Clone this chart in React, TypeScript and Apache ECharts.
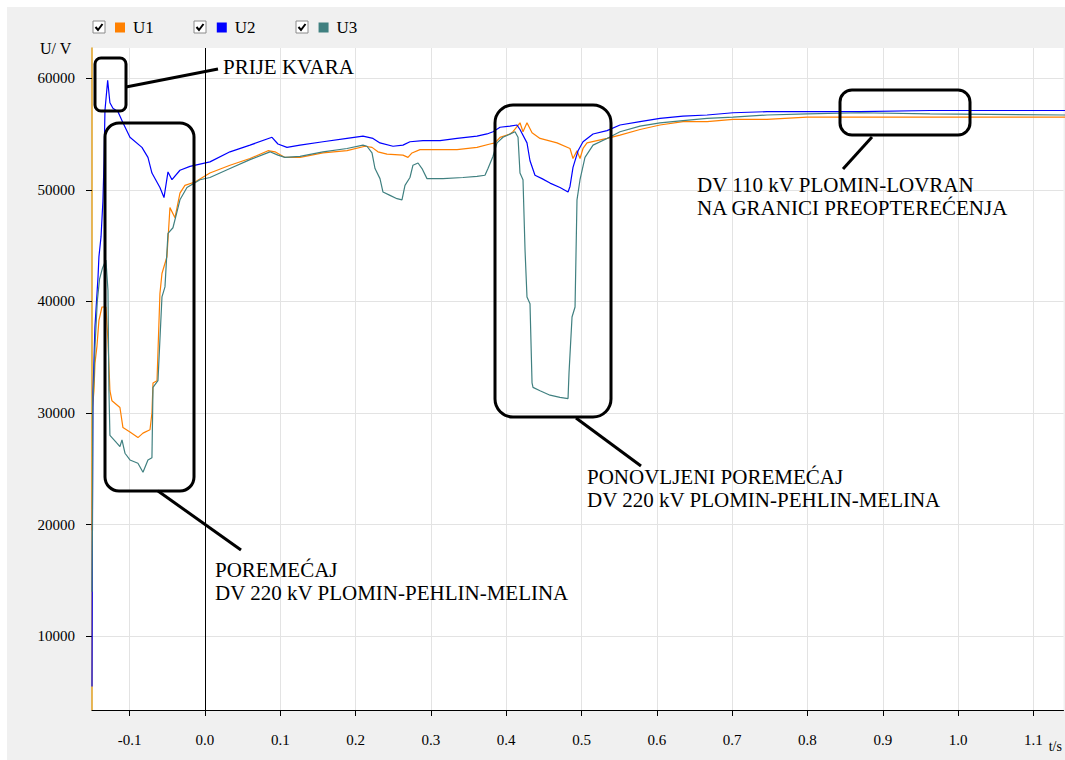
import React, { useEffect, useRef } from "react";
import * as echarts from "echarts";

const SERIES_NAMES = ["U1", "U2", "U3"];
const SERIES_COLORS = ["#ff8000", "#0000ff", "#408080"];
const X_TICKS = [-0.1, 0.0, 0.1, 0.2, 0.3, 0.4, 0.5, 0.6, 0.7, 0.8, 0.9, 1.0, 1.1];
const Y_TICKS = [10000, 20000, 30000, 40000, 50000, 60000];
const FAULT_TIME = [0];
const Y_NAME = "U/ V";
const X_NAME = "t/s";

const U1: number[][] = [
  [-0.150, 19500], [-0.1493, 30500], [-0.1474, 32000], [-0.146, 34500], [-0.1434, 36000],
  [-0.1408, 38300], [-0.1368, 39500], [-0.1315, 39500], [-0.1288, 36500], [-0.1262, 32000],
  [-0.1235, 31100], [-0.1129, 30500], [-0.1089, 28700], [-0.0996, 28300], [-0.089, 27800],
  [-0.0823, 28200], [-0.073, 28500], [-0.0704, 30000], [-0.069, 32700], [-0.0637, 32900],
  [-0.0598, 40700], [-0.0571, 42500], [-0.0505, 44000], [-0.0465, 48400], [-0.0398, 47500],
  [-0.0332, 49700], [-0.0266, 50400], [-0.0133, 50700], [0.0066, 51500], [0.0332, 52200],
  [0.0598, 52800], [0.0837, 53500], [0.0930, 53400], [0.1062, 52900], [0.1262, 52900],
  [0.1567, 53300], [0.1886, 53500], [0.2125, 53900], [0.2218, 53800], [0.2297, 53400],
  [0.2417, 53200], [0.2629, 53100], [0.2696, 52900], [0.2749, 53300], [0.2855, 53600],
  [0.3347, 53600], [0.3612, 53800], [0.3785, 54100], [0.3851, 54200], [0.3918, 54700],
  [0.4050, 55000], [0.4090, 55200], [0.4183, 56000], [0.4223, 55200], [0.4276, 56000],
  [0.4343, 55100], [0.4449, 54600], [0.4675, 54200], [0.4847, 53700], [0.4887, 52800],
  [0.4940, 53500], [0.4980, 52800], [0.5020, 53700], [0.5073, 54200], [0.5339, 54600],
  [0.5511, 54900], [0.5777, 55400], [0.6042, 55800], [0.6348, 56100], [0.6667, 56100],
  [0.7012, 56300], [0.7463, 56300], [0.7995, 56500], [0.8699, 56500], [0.9628, 56500],
  [1.142, 56500],
];

const U2: number[][] = [
  [-0.150, 5500], [-0.1495, 18000], [-0.1487, 31800], [-0.1474, 34700], [-0.1461, 37700],
  [-0.142, 42200], [-0.1408, 44000], [-0.138, 45800], [-0.1355, 49000], [-0.134, 52600],
  [-0.1328, 57100], [-0.1292, 59800], [-0.1262, 57800], [-0.1222, 57300], [-0.1155, 57000],
  [-0.1089, 56000], [-0.0996, 54700], [-0.0837, 53800], [-0.0757, 52900], [-0.0704, 51500],
  [-0.0598, 50200], [-0.0544, 49300], [-0.0491, 51600], [-0.0438, 50900], [-0.0332, 51750],
  [-0.0199, 52100], [0.0066, 52500], [0.0332, 53400], [0.0598, 54000], [0.0890, 54700],
  [0.0969, 54100], [0.1089, 53800], [0.1262, 54000], [0.1567, 54300], [0.1886, 54600],
  [0.2098, 54800], [0.2231, 54600], [0.2324, 54200], [0.2497, 53900], [0.2629, 54000],
  [0.2722, 54300], [0.2895, 54400], [0.3121, 54400], [0.3347, 54600], [0.3612, 54800],
  [0.3745, 55000], [0.3825, 55200], [0.3918, 55600], [0.4050, 55700], [0.4143, 55800],
  [0.4183, 55400], [0.4276, 54200], [0.4316, 52600], [0.4382, 51300], [0.4475, 51000],
  [0.4582, 50600], [0.4714, 50200], [0.4821, 49800], [0.4847, 50300], [0.4887, 52000],
  [0.4954, 53500], [0.5020, 54300], [0.5153, 55000], [0.5339, 55300], [0.5511, 55800],
  [0.5777, 56100], [0.6042, 56400], [0.6348, 56600], [0.6667, 56700], [0.7012, 56900],
  [0.7463, 57000], [0.7995, 57000], [0.8699, 57000], [0.9628, 57100], [1.0558, 57100],
  [1.142, 57100],
];

const U3: number[][] = [
  [-0.150, 14000], [-0.1495, 19500], [-0.149, 31000], [-0.1474, 33000], [-0.146, 36000],
  [-0.143, 40000], [-0.140, 42000], [-0.136, 43000], [-0.1315, 43700], [-0.1288, 41000],
  [-0.1275, 32000], [-0.1262, 28000], [-0.1235, 27800], [-0.1169, 27300], [-0.1129, 27000],
  [-0.1102, 27600], [-0.1062, 26400], [-0.0996, 25800], [-0.089, 25500], [-0.0823, 24700],
  [-0.0757, 25800], [-0.0704, 26000], [-0.069, 32300], [-0.0624, 32900], [-0.0571, 40400],
  [-0.0531, 41300], [-0.0491, 46100], [-0.0425, 46600], [-0.0332, 49100], [-0.0239, 50200],
  [-0.0066, 50900], [0.0066, 51100], [0.0332, 51900], [0.0598, 52700], [0.0863, 53400],
  [0.0969, 53100], [0.1062, 52900], [0.1262, 53000], [0.1567, 53400], [0.1886, 53700],
  [0.2098, 54000], [0.2151, 53900], [0.2218, 53300], [0.2258, 51900], [0.2324, 51000],
  [0.2364, 49800], [0.2457, 49500], [0.2550, 49200], [0.2616, 49100], [0.2656, 50400],
  [0.2722, 51100], [0.2762, 52200], [0.2829, 52400], [0.2882, 51900], [0.2948, 51000],
  [0.3161, 51000], [0.3426, 51100], [0.3612, 51200], [0.3718, 51300], [0.3758, 51900],
  [0.3825, 53000], [0.3878, 54200], [0.3957, 54700], [0.4117, 55200], [0.4157, 54700],
  [0.4183, 51500], [0.4223, 50900], [0.4250, 44600], [0.4276, 40400], [0.4316, 39800],
  [0.4343, 32700], [0.4356, 32300], [0.4449, 32000], [0.4582, 31600], [0.4714, 31400],
  [0.4821, 31300], [0.4834, 33600], [0.4874, 38600], [0.4914, 39500], [0.4940, 49100],
  [0.4980, 50900], [0.5046, 52900], [0.5153, 54000], [0.5339, 54600], [0.5511, 55200],
  [0.5777, 55700], [0.6042, 56000], [0.6348, 56200], [0.6667, 56400], [0.7012, 56500],
  [0.7463, 56700], [0.7995, 56800], [0.8699, 56900], [0.9628, 56800], [1.142, 56700],
];

const ANNOTATION_TEXTS = [
  "PRIJE KVARA",
  "POREMEĆAJ\nDV 220 kV PLOMIN-PEHLIN-MELINA",
  "PONOVLJENI POREMEĆAJ\nDV 220 kV PLOMIN-PEHLIN-MELINA",
  "DV 110 kV PLOMIN-LOVRAN\nNA GRANICI PREOPTEREĆENJA",
];

const SERIF = '"Liberation Serif", "Times New Roman", serif';

function checkbox(x: number, y: number) {
  return {
    type: "group",
    x,
    y,
    children: [
      { type: "rect", shape: { x: 0, y: 0, width: 12, height: 12 }, style: { fill: "#fff", stroke: "#8a8a8a", lineWidth: 1 } },
      { type: "polyline", shape: { points: [[2.5, 6], [5, 9], [9.5, 3]] }, style: { stroke: "#000", lineWidth: 2, fill: "none" } },
    ],
  };
}

function box(x: number, y: number, w: number, h: number, r: number) {
  return {
    type: "rect",
    shape: { x, y, width: w, height: h, r },
    style: { fill: "none", stroke: "#000", lineWidth: 3 },
    z: 10,
  };
}

function connector(x1: number, y1: number, x2: number, y2: number) {
  return {
    type: "line",
    shape: { x1, y1, x2, y2 },
    style: { stroke: "#000", lineWidth: 3 },
    z: 10,
  };
}

function label(text: string, x: number, y: number, va: string, size = 21) {
  return {
    type: "text",
    x,
    y,
    z: 10,
    style: {
      text,
      fill: "#000",
      fontSize: size,
      fontFamily: SERIF,
      lineHeight: 23,
      align: "left",
      verticalAlign: va,
    },
  };
}

export default function App() {
  const ref = useRef<HTMLDivElement>(null);
  useEffect(() => {
    if (!ref.current) return;
    const chart = echarts.init(ref.current, null, { renderer: "svg" });
    const data = [U1, U2, U3];
    const option: any = {
      animation: false,
      backgroundColor: "#f0f0f0",
      legend: {
        show: true,
        left: 108,
        top: 12,
        padding: 0,
        itemWidth: 10,
        itemHeight: 10,
        itemGap: 63,
        icon: "rect",
        selectedMode: false,
        data: SERIES_NAMES,
        textStyle: { fontSize: 17, fontFamily: SERIF, color: "#000", padding: [0, 0, 0, 3] },
      },
      grid: {
        left: 85,
        top: 41,
        right: 1.5,
        bottom: 50,
        show: true,
        backgroundColor: "#fff",
        borderWidth: 0,
      },
      xAxis: {
        type: "value",
        min: -0.15,
        max: 1.14,
        name: X_NAME,
        nameLocation: "end",
        nameGap: -17,
        nameTextStyle: { fontSize: 14, fontFamily: SERIF, color: "#000", align: "left", verticalAlign: "top", padding: [29, 0, 0, 0] },
        axisLine: { show: true, onZero: false, lineStyle: { color: "#000", width: 1 } },
        axisTick: { show: true, length: 6, customValues: X_TICKS, lineStyle: { color: "#000" } },
        axisLabel: {
          customValues: X_TICKS,
          margin: 22,
          fontSize: 15,
          fontFamily: SERIF,
          color: "#000",
          formatter: (v: number) => v.toFixed(1),
        },
        splitLine: { show: true, lineStyle: { color: "#e3e3e3", width: 1 } },
      },
      yAxis: {
        type: "value",
        min: 3400,
        max: 62700,
        axisLine: { show: true, onZero: false, lineStyle: { color: "#e0a020", width: 1.5 } },
        axisTick: { show: true, length: 6, customValues: Y_TICKS, lineStyle: { color: "#000" } },
        axisLabel: {
          customValues: Y_TICKS,
          margin: 17,
          fontSize: 15,
          fontFamily: SERIF,
          color: "#000",
          formatter: (v: number) => String(v),
        },
        splitLine: { show: true, lineStyle: { color: "#e3e3e3", width: 1 } },
      },
      series: SERIES_NAMES.map((name, i) => ({
        name,
        type: "line",
        data: data[i],
        showSymbol: false,
        symbol: "none",
        color: SERIES_COLORS[i],
        lineStyle: { color: SERIES_COLORS[i], width: 1.2 },
        z: 3,
        markLine:
          i === 0
            ? {
                silent: true,
                symbol: "none",
                label: { show: false },
                lineStyle: { color: "#000", type: "solid", width: 1 },
                data: FAULT_TIME.map((t) => ({ xAxis: t })),
              }
            : undefined,
      })),
      graphic: [
        checkbox(86, 14),
        checkbox(187, 14),
        checkbox(289, 14),
        label(Y_NAME, 33, 41.5, "middle", 16),
        box(88, 51, 31, 53, 6),
        connector(119, 80, 211, 62),
        label(ANNOTATION_TEXTS[0], 216, 60, "middle"),
        box(98, 116, 89, 368, 14),
        connector(151, 484, 234, 543),
        label(ANNOTATION_TEXTS[1], 208, 551.5, "top"),
        box(488, 98, 116, 312, 18),
        connector(569, 411, 634, 459),
        label(ANNOTATION_TEXTS[2], 580, 458.5, "top"),
        box(833, 83, 130, 45, 12),
        connector(865, 130, 836, 162),
        label(ANNOTATION_TEXTS[3], 690, 166.5, "top"),
      ],
    };
    chart.setOption(option);
    return () => chart.dispose();
  }, []);
  return (
    <div
      ref={ref}
      style={{ position: "absolute", left: 7, top: 7, width: 1058, height: 753 }}
    />
  );
}
